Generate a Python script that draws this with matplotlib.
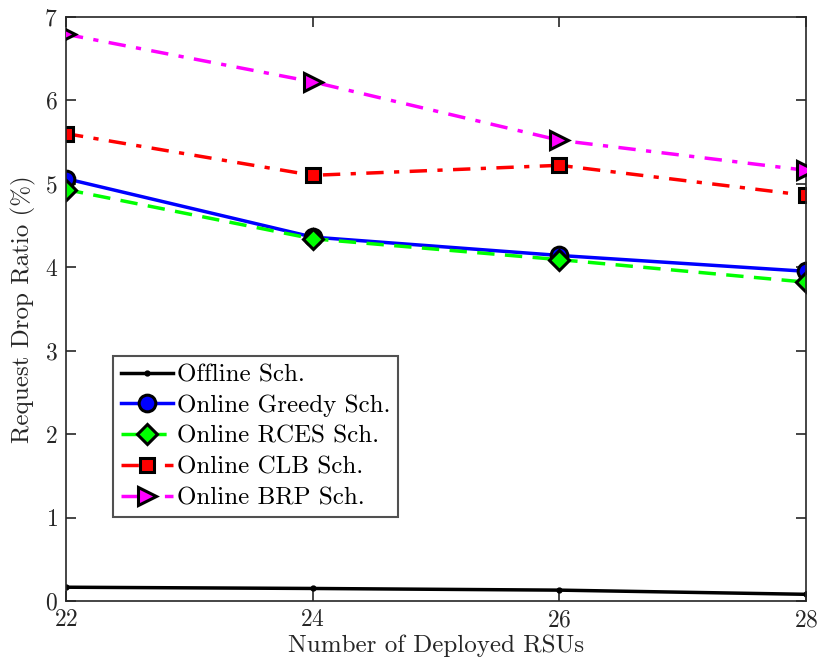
import matplotlib
matplotlib.use("Agg")
import matplotlib.pyplot as plt

rsus = [22, 24, 26, 28]
offline = [0.165, 0.15, 0.13, 0.08]
greedy = [5.06, 4.36, 4.14, 3.95]
rces = [4.93, 4.34, 4.09, 3.82]
clb = [5.60, 5.10, 5.22, 4.86]
brp = [6.79, 6.22, 5.52, 5.16]
labels = ["Offline Sch.", "Online Greedy Sch.", "Online RCES Sch.", "Online CLB Sch.", "Online BRP Sch."]

plt.rcParams['font.family'] = ['cmr10', 'DejaVu Serif']
plt.rcParams['axes.formatter.use_mathtext'] = True
plt.rcParams['mathtext.fontset'] = 'cm'

fig = plt.figure(figsize=(8.2, 6.7), dpi=100)
ax = fig.add_axes([0.0805, 0.103, 0.9025, 0.872])

axc = '#262626'
ax.plot(rsus, offline, '-', color='black', lw=2.5, marker='o', ms=3.5, mfc='black', mec='black', label=labels[0])
ax.plot(rsus, greedy, '-', color='#0000ff', lw=2.5, marker='o', ms=12, mfc='#0000ff', mec='black', mew=2.2, label=labels[1])
ax.plot(rsus, rces, '--', color='#00ff00', lw=2.5, marker='D', ms=10, mfc='#00ff00', mec='black', mew=2.2, label=labels[2], dashes=(5, 3))
ax.plot(rsus, clb, '-.', color='#ff0000', lw=2.5, marker='s', ms=10, mfc='#ff0000', mec='black', mew=2.2, label=labels[3], dashes=(5, 3, 1.5, 3))
ax.plot(rsus, brp, '-.', color='#ff00ff', lw=2.5, marker='>', ms=13, mfc='#ff00ff', mec='black', mew=2.2, label=labels[4], dashes=(5, 3, 1.5, 3), zorder=3)

ax.set_xlim(22, 28)
ax.set_ylim(0, 7)
ax.set_xticks(rsus)
ax.set_yticks(range(0, 8))
for s in ax.spines.values():
    s.set_color(axc)
    s.set_linewidth(1.2)
ax.tick_params(direction='in', top=True, right=True, length=7, width=1.2, color=axc,
               labelsize=17, labelcolor=axc, pad=6)
ax.set_xlabel("Number of Deployed RSUs", fontsize=18, color=axc, labelpad=2)
ax.set_ylabel("Request Drop Ratio (%)", fontsize=18, color=axc, labelpad=6)

leg = ax.legend(loc='lower left', bbox_to_anchor=(0.0635, 0.144), fontsize=18, frameon=True,
                fancybox=False, edgecolor=axc, handlelength=2.1, handletextpad=0.15,
                borderpad=0.3, labelspacing=0.33, borderaxespad=0)
leg.get_frame().set_linewidth(1.5)

fig.savefig("out.png", dpi=100)
